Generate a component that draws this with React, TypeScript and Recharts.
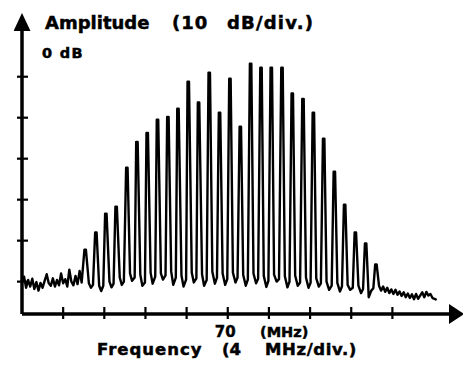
import React from 'react';
import { LineChart, Line, XAxis, YAxis } from 'recharts';

// spectrum analyzer trace: frequency in MHz, amplitude in dB (0 dB = reference level)
const xTicks = [54, 58, 62, 66, 70, 74, 78, 82, 86];
const yTicks = [-10, -20, -30, -40, -50, -60];

// spike centres and peak levels
const peakFreq = [
  56.14, 57.18, 58.15, 59.15, 60.19, 61.17, 62.17, 63.17, 64.18, 65.16,
  66.16, 67.16, 68.2, 69.2, 70.21, 71.22, 72.22, 73.23, 74.23, 75.27,
  76.27, 77.31, 78.32, 79.32, 80.36, 81.36, 82.4, 83.4, 84.4,
];
const peakTop = [
  -52.2, -48.0, -43.4, -41.7, -32.2, -25.9, -23.7, -20.5, -19.8, -17.8,
  -11.2, -16.3, -9.0, -18.8, -10.5, -22.2, -6.8, -7.8, -7.8, -7.8,
  -14.1, -15.4, -18.8, -25.1, -33.2, -41.2, -48.0, -50.7, -55.8,
];

// noise floor samples between the spikes
const floorTrace: [number, number][] = [
  [50.0, -60.0], [50.2, -58.8], [50.4, -61.5], [50.6, -59.6], [50.8, -61.2],
  [51.0, -59.3], [51.2, -61.8], [51.4, -60.1], [51.6, -62.2], [51.8, -60.3],
  [52.0, -61.5], [52.2, -59.8], [52.4, -58.2], [52.6, -60.4], [52.8, -61.0],
  [53.0, -59.2], [53.2, -61.2], [53.4, -59.6], [53.6, -60.9], [53.8, -58.0],
  [54.0, -60.4], [54.2, -59.4], [54.4, -61.2], [54.6, -57.1], [54.8, -60.0],
  [55.0, -60.9], [55.2, -58.6], [55.4, -60.6], [55.6, -57.4], [55.8, -60.2],
  [56.5, -60.4], [56.7, -61.5], [56.9, -60.8],
  [57.5, -61.0], [57.7, -62.3], [57.9, -61.0],
  [58.5, -60.0], [58.7, -61.4], [58.9, -60.5],
  [59.5, -59.0], [59.7, -60.8], [59.9, -60.0],
  [60.5, -58.0], [60.7, -59.8], [60.95, -59.0],
  [61.5, -58.3], [61.7, -61.0], [61.95, -60.2],
  [62.5, -57.8], [62.7, -60.5], [62.95, -58.8],
  [63.5, -58.0], [63.7, -59.5], [63.95, -58.5],
  [64.5, -57.5], [64.7, -60.8], [64.95, -59.0],
  [65.5, -58.5], [65.7, -61.2], [65.95, -59.5],
  [66.5, -57.8], [66.7, -60.2], [66.95, -59.2],
  [67.5, -58.2], [67.7, -61.0], [67.95, -59.6],
  [68.5, -57.6], [68.75, -60.5], [68.95, -59.0],
  [69.5, -58.0], [69.75, -60.8], [69.95, -59.4],
  [70.5, -57.8], [70.75, -60.2], [70.95, -59.0],
  [71.5, -58.4], [71.75, -61.0], [71.95, -59.5],
  [72.5, -58.0], [72.75, -60.4], [72.95, -59.3],
  [73.5, -58.6], [73.75, -61.3], [73.95, -59.8],
  [74.5, -58.3], [74.75, -60.0], [74.98, -59.4],
  [75.55, -58.7], [75.8, -61.4], [76.0, -60.0],
  [76.55, -58.5], [76.8, -61.0], [77.03, -60.2],
  [77.6, -59.0], [77.85, -61.5], [78.05, -60.3],
  [78.6, -59.2], [78.85, -61.2], [79.05, -60.4],
  [79.6, -60.0], [79.85, -62.0], [80.1, -61.0],
  [80.65, -60.3], [80.9, -62.4], [81.1, -61.2],
  [81.65, -60.8], [81.9, -62.0], [82.15, -61.5],
  [82.7, -61.0], [82.95, -62.8], [83.15, -61.8],
  [83.7, -63.8], [83.95, -62.2], [84.15, -61.6],
  [84.7, -61.0], [84.9, -62.2], [85.1, -61.2], [85.3, -62.5], [85.5, -61.5],
  [85.7, -62.8], [85.9, -61.9], [86.1, -63.0], [86.3, -62.0], [86.5, -63.2],
  [86.7, -62.4], [86.9, -63.5], [87.1, -62.6], [87.3, -63.8], [87.5, -62.9],
  [87.7, -64.0], [87.9, -63.1], [88.1, -64.3], [88.3, -63.0], [88.5, -64.2],
  [88.7, -63.4], [88.9, -62.6], [89.1, -63.8], [89.3, -62.5], [89.5, -63.4],
  [89.7, -63.0], [89.9, -64.0], [90.1, -64.2], [90.3, -64.5],
];

const PEAK_HALF_WIDTH = 0.07; // flat top of each spike, MHz

const data = [
  ...floorTrace.map(([f, db]) => ({ f, db })),
  ...peakFreq.flatMap((f, i) => [
    { f: f - PEAK_HALF_WIDTH, db: peakTop[i] },
    { f: f + PEAK_HALF_WIDTH, db: peakTop[i] },
  ]),
].sort((a, b) => a.f - b.f);

const font = '"DejaVu Sans", sans-serif';

const XTick = (props: any) => {
  const { x, y, payload } = props;
  return (
    <g>
      <line x1={x} x2={x} y1={y - 7} y2={y + 5} stroke="#000" strokeWidth={2.2} />
      {payload.value === 70 && (
        <text x={x - 13} y={y + 23} fontFamily={font} fontWeight="bold" fontSize={15}
          fill="#000" stroke="#000" strokeWidth={0.4}>
          70
        </text>
      )}
    </g>
  );
};

const YTick = (props: any) => {
  const { x, y } = props;
  return <line x1={x - 5} x2={x + 6} y1={y} y2={y} stroke="#000" strokeWidth={2.2} />;
};

const App = () => {
  return (
    <div style={{ position: 'absolute', left: 0, top: 0, width: 463, height: 369, background: '#fff' }}>
      <svg width={0} height={0} style={{ position: 'absolute' }}>
        <defs>
          <marker id="arrowX" viewBox="0 0 15 20" refX={1} refY={10} markerWidth={15} markerHeight={20}
            markerUnits="userSpaceOnUse" orient="auto">
            <path d="M0,0 L15,10 L0,20 z" fill="#000" />
          </marker>
          <marker id="arrowY" viewBox="0 0 18 17" refX={1} refY={8.5} markerWidth={18} markerHeight={17}
            markerUnits="userSpaceOnUse" orient="auto-start-reverse">
            <path d="M0,0 L18,8.5 L0,17 z" fill="#000" />
          </marker>
        </defs>
      </svg>
      <LineChart width={463} height={369} data={data} margin={{ top: 30, right: 13, bottom: 45, left: 12 }}>
        <XAxis
          type="number"
          dataKey="f"
          domain={[50, 91.6]}
          ticks={xTicks}
          allowDataOverflow
          height={10}
          tickSize={0}
          tickMargin={0}
          tick={<XTick />}
          tickLine={false}
          axisLine={{ stroke: '#000', strokeWidth: 3.5, markerEnd: 'url(#arrowX)' }}
        />
        <YAxis
          type="number"
          domain={[-67.9, 1.4]}
          ticks={yTicks}
          allowDataOverflow
          width={10}
          tickSize={0}
          tickMargin={0}
          tick={<YTick />}
          tickLine={false}
          axisLine={{ stroke: '#000', strokeWidth: 3.5, markerStart: 'url(#arrowY)' }}
        />
        <Line
          type="linear"
          dataKey="db"
          stroke="#000"
          strokeWidth={2.4}
          strokeLinejoin="round"
          dot={false}
          isAnimationActive={false}
        />
      </LineChart>
      <svg width={463} height={369} style={{ position: 'absolute', left: 0, top: 0, pointerEvents: 'none' }}>
        <g fontFamily={font} fontWeight="bold" fill="#000" stroke="#000" strokeWidth={0.5}>
          <text x={45} y={28.5} fontSize={18}>Amplitude</text>
          <text x={172} y={28.5} fontSize={18} letterSpacing={1}>(10</text>
          <text x={227} y={28.5} fontSize={18} letterSpacing={1.2}>dB/div.)</text>
          <text x={42} y={57.5} fontSize={14.5} letterSpacing={1.3}>0 dB</text>
          <text x={260} y={337} fontSize={14.5}>(MHz)</text>
          <text x={97} y={355} fontSize={16.5} letterSpacing={1}>Frequency</text>
          <text x={222} y={355} fontSize={16.5}>(4</text>
          <text x={265} y={355} fontSize={16.5} letterSpacing={0.6}>MHz/div.)</text>
        </g>
      </svg>
    </div>
  );
};

export default App;
